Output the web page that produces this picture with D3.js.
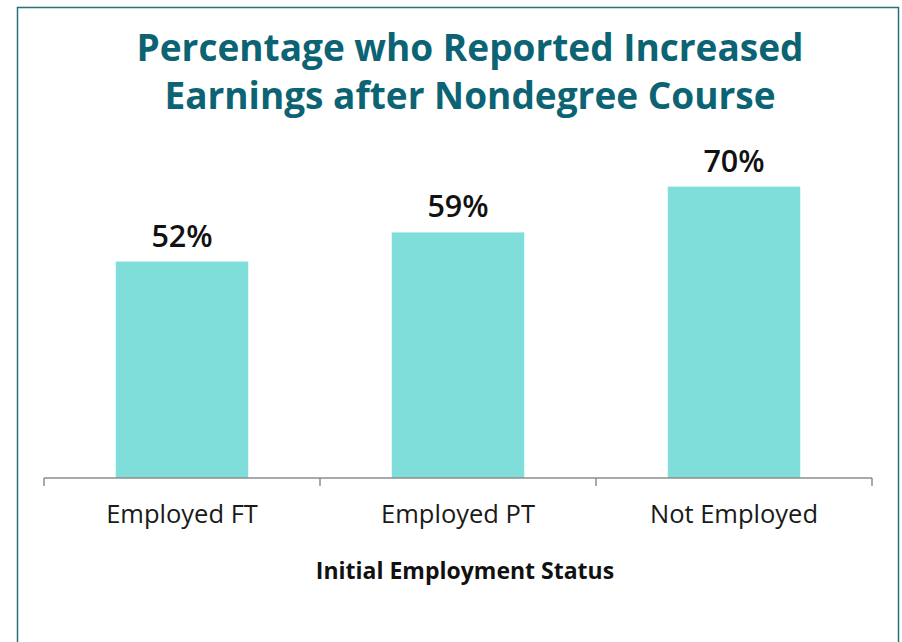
<!DOCTYPE html>
<html>
<head>
<meta charset="utf-8">
<script src="https://cdn.jsdelivr.net/npm/d3@7"></script>
<style>
  body { margin: 0; background: #fff; font-family: 'Open Sans', sans-serif; }
</style>
</head>
<body>
<div id="chart-area"></div>
<script>
// data
var categories = ['Employed FT', 'Employed PT', 'Not Employed']
var values = [52, 59, 70]
var titleLines = ['Percentage who Reported Increased', 'Earnings after Nondegree Course']
var xTitle = 'Initial Employment Status'

var W = 902
var H = 642
var margin = {left: 44, right: 30, top: 145, bottom: 164}
var width = W - margin.left - margin.right
var height = H - margin.top - margin.bottom

var svg = d3.select('#chart-area')
  .append('svg')
  .attr('width', W)
  .attr('height', H)

// frame
svg.append('rect')
  .attr('x', 17.5)
  .attr('y', 7.5)
  .attr('width', 881)
  .attr('height', 660)
  .attr('fill', 'none')
  .attr('stroke', '#2b6f7d')
  .attr('stroke-width', 1.5)

// title
svg.append('text')
  .attr('x', 470)
  .attr('y', 61)
  .attr('text-anchor', 'middle')
  .attr('font-size', '37px')
  .attr('font-weight', 700)
  .attr('fill', '#0b6373')
  .selectAll('tspan')
  .data(titleLines)
  .enter().append('tspan')
  .attr('x', 470)
  .attr('dy', function (d, i) { return i === 0 ? 0 : 48 })
  .text(function (d) { return d })

var g = svg.append('g')
  .attr('transform', 'translate(' + margin.left + ', ' + margin.top + ')')

// scales
var x = d3.scaleBand()
  .domain(categories)
  .range([0, width])
  .paddingInner(0.52)
  .paddingOuter(0.26)

var band = d3.scaleBand()
  .domain(categories)
  .range([0, width])

var y = d3.scaleLinear()
  .domain([0, 80])
  .range([height, 0])

// bars
g.selectAll('rect.bar')
  .data(values)
  .enter().append('rect')
  .attr('class', 'bar')
  .attr('x', function (d, i) { return x(categories[i]) })
  .attr('width', x.bandwidth())
  .attr('y', function (d) { return y(d) })
  .attr('height', function (d) { return height - y(d) })
  .attr('fill', '#7fded9')

// value labels
g.selectAll('text.val')
  .data(values)
  .enter().append('text')
  .attr('class', 'val')
  .attr('x', function (d, i) { return x(categories[i]) + x.bandwidth() / 2 })
  .attr('y', function (d) { return y(d) - 15 })
  .attr('text-anchor', 'middle')
  .attr('font-size', '30.5px')
  .attr('font-weight', 600)
  .attr('fill', '#111')
  .text(function (d) { return d + '%' })

// x axis with ticks between categories
var xAxisGroup = g.append('g')
  .attr('transform', 'translate(0, ' + height + ')')

xAxisGroup.append('line')
  .attr('x1', 0)
  .attr('x2', width)
  .attr('stroke', '#8c8c8c')
  .attr('stroke-width', 1.5)

var tickPos = [0].concat(categories.map(function (c) { return band(c) + band.bandwidth() }))
xAxisGroup.selectAll('line.tick')
  .data(tickPos)
  .enter().append('line')
  .attr('class', 'tick')
  .attr('x1', function (d) { return d })
  .attr('x2', function (d) { return d })
  .attr('y1', 0)
  .attr('y2', 8)
  .attr('stroke', '#8c8c8c')
  .attr('stroke-width', 1.5)

xAxisGroup.selectAll('text.cat')
  .data(categories)
  .enter().append('text')
  .attr('class', 'cat')
  .attr('x', function (d) { return band(d) + band.bandwidth() / 2 })
  .attr('y', 45)
  .attr('text-anchor', 'middle')
  .attr('font-size', '25.5px')
  .attr('fill', '#1a1a1a')
  .text(function (d) { return d })

// x title
svg.append('text')
  .attr('x', 465)
  .attr('y', 579)
  .attr('text-anchor', 'middle')
  .attr('font-size', '23px')
  .attr('font-weight', 700)
  .attr('fill', '#111')
  .text(xTitle)
</script>
</body>
</html>
